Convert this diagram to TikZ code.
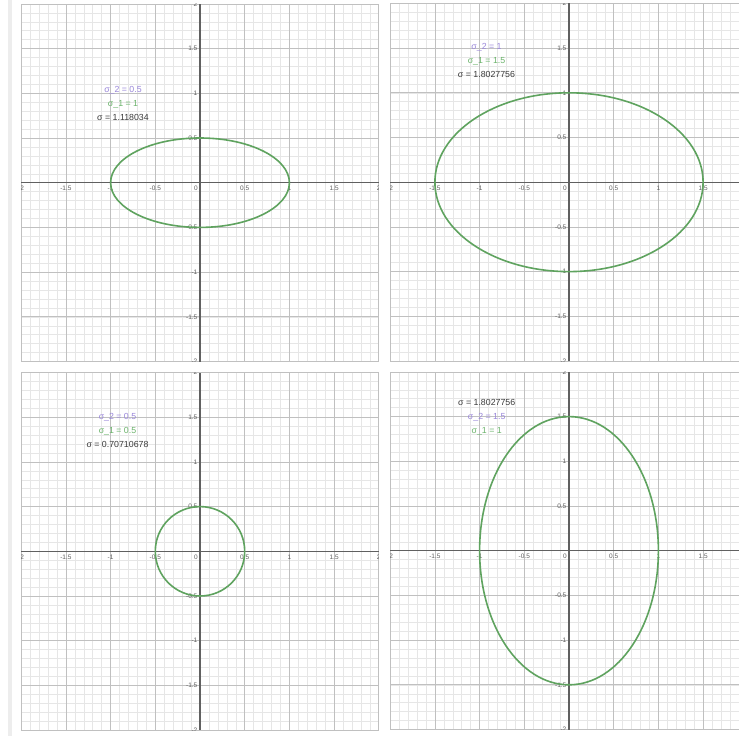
\documentclass[tikz,border=0pt]{standalone}
\usepackage{fontspec}
\setmainfont{Liberation Sans}
\usetikzlibrary{positioning}
\definecolor{gridMinor}{HTML}{E6E6E6}
\definecolor{gridMajor}{HTML}{C0C0C0}
\definecolor{axisGray}{HTML}{606060}
\definecolor{curveGreen}{HTML}{5FA35F}
\definecolor{sigTwoPurple}{HTML}{9A87DA}
\definecolor{sigOneGreen}{HTML}{6CB46C}
\definecolor{sigGray}{HTML}{3A3A3A}
\definecolor{stripGray}{HTML}{EDEDED}

\begin{document}
\begin{tikzpicture}[
    x=1pt, y=1pt,
    minorgrid/.style={draw=gridMinor, line width=0.5pt},
    majorgrid/.style={draw=gridMajor, line width=0.75pt},
    axisline/.style={draw=axisGray, line width=1.1pt},
    ticklabel/.style={font=\fontsize{6.5}{7.5}\selectfont, text=axisGray, inner sep=0.5pt},
    curve/.style={draw=curveGreen, line width=1.6pt},
    sigtext/.style={font=\fontsize{8.8}{10}\selectfont, inner sep=0pt,
        text height=6.5pt, text depth=2pt},
    sigtwo/.style={sigtext, text=sigTwoPurple},
    sigone/.style={sigtext, text=sigOneGreen},
    sigall/.style={sigtext, text=sigGray},
]

\useasboundingbox (0,0) rectangle (739,-736);
\fill[white] (0,0) rectangle (739,-736);
\fill[stripGray] (8,0) rectangle (11.5,-736);

% ============================================
% Four coordinate panels
% ============================================
\foreach \nm/\ox/\oy/\rx/\ry/\xr/\xt in {
    a/200/-182.7/1/0.5/2/{-2,-1.5,-1,-0.5,0.5,1,1.5,2},
    b/569/-182.2/1.5/1/1.9/{-2,-1.5,-1,-0.5,0.5,1,1.5},
    c/200/-551.3/0.5/0.5/2/{-2,-1.5,-1,-0.5,0.5,1,1.5,2},
    d/569/-550.7/1/1.5/1.9/{-2,-1.5,-1,-0.5,0.5,1,1.5}}{
  \begin{scope}[shift={(\ox,\oy)}, x=89.4pt, y=89.4pt]
    \clip (-2,-2) rectangle (\xr,2);
    \draw[minorgrid] (-2,-2) grid[step=0.1] (2,2);
    \draw[majorgrid] (-2,-2) grid[step=0.5] (2,2);
    \draw[axisline] (-2,0) -- (2,0);
    \draw[axisline] (0,-2) -- (0,2);
    \foreach \v [count=\i] in \xt{
      \node[ticklabel, below=3pt] (\nm x\i) at (\v,0) {\v};
    }
    \foreach \v [count=\i] in {-2,-1.5,-1,-0.5,0.5,1,1.5,2}{
      \node[ticklabel, left=2pt] (\nm y\i) at (0,\v) {\v};
    }
    \node[ticklabel, below left=3pt and 1.5pt] (\nm o) at (0,0) {0};
    \draw[curve] (0,0) ellipse[x radius=\rx, y radius=\ry];
  \end{scope}
}

% ============================================
% Sigma labels
% ============================================
\node[sigtwo] (atwo) at (123,-90.7) {σ\_2 = 0.5};
\node[sigone, below=5pt of atwo] (aone) {σ\_1 = 1};
\node[sigall, below=5pt of aone] (aall) {σ = 1.118034};

\node[sigtwo] (btwo) at (486.5,-47.5) {σ\_2 = 1};
\node[sigone, below=5pt of btwo] (bone) {σ\_1 = 1.5};
\node[sigall, below=5pt of bone] (ball) {σ = 1.8027756};

\node[sigtwo] (ctwo) at (117.5,-417.3) {σ\_2 = 0.5};
\node[sigone, below=5pt of ctwo] (cone) {σ\_1 = 0.5};
\node[sigall, below=5pt of cone] (call) {σ = 0.70710678};

\node[sigall] (dall) at (486.7,-403.5) {σ = 1.8027756};
\node[sigtwo, below=5pt of dall] (dtwo) {σ\_2 = 1.5};
\node[sigone, below=5pt of dtwo] (done) {σ\_1 = 1};

\end{tikzpicture}
\end{document}
